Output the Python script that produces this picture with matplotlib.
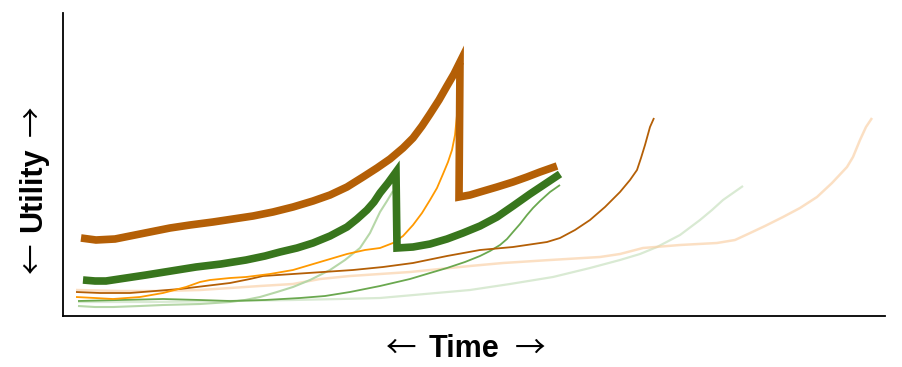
import matplotlib
matplotlib.use("Agg")
import matplotlib.pyplot as plt

plt.rcParams['font.family'] = ['Liberation Sans', 'DejaVu Sans']

# values (time, utility)
thin_orange_t = [13, 32, 50, 77, 100, 123, 137, 147, 167, 183, 207, 230, 257, 284, 302, 317, 330,
                 340, 350, 359, 367, 374, 380, 385, 389, 392, 393, 395]
thin_orange_u = [19, 18, 17, 19, 23, 29, 34, 36, 38, 39, 42, 46, 54, 62, 66, 68, 73,
                 80, 91, 103, 116, 128, 142, 154, 166, 181, 191, 211]

thin_brown_t = [13, 37, 67, 92, 117, 142, 167, 187, 200, 230, 260, 290, 320, 350, 384, 417, 450,
                484, 497, 512, 527, 542, 557, 567, 574, 578, 582, 587, 591]
thin_brown_u = [24, 23, 23, 25, 27, 30, 33, 37, 40, 42, 44, 46, 49, 53, 60, 66, 69,
                74, 78, 86, 96, 109, 124, 136, 146, 158, 171, 189, 198]

peach_t = [13, 57, 100, 137, 167, 197, 230, 257, 287, 317, 347, 377, 407, 440, 487, 537, 557,
           580, 617, 654, 672, 685, 702, 720, 737, 754, 769, 784, 790, 797, 803, 809]
peach_u = [26, 25, 25, 26, 28, 30, 32, 37, 40, 42, 44, 47, 50, 53, 56, 59, 62,
           68, 71, 73, 76, 82, 90, 99, 108, 119, 133, 149, 159, 176, 189, 198]

mid_green_t = [15, 57, 100, 137, 167, 202, 237, 262, 287, 317, 347, 367, 384, 402, 417, 427,
               437, 444, 450, 457, 464, 470, 477, 487, 497]
mid_green_u = [15, 16, 17, 16, 15, 16, 18, 20, 24, 30, 37, 43, 48, 54, 60, 65,
               71, 77, 84, 92, 101, 108, 115, 124, 131]

steep_green_t = [15, 32, 50, 77, 100, 137, 167, 182, 197, 214, 230, 247, 267, 282, 297, 307,
                 317, 324, 330]
steep_green_u = [10, 9, 9, 10, 11, 12, 14, 16, 19, 24, 29, 36, 46, 56, 68, 83,
                 104, 115, 125]

faint_green_t = [15, 87, 167, 230, 277, 317, 362, 407, 447, 490, 527, 557, 577, 594, 617, 637,
                 649, 660, 670, 680]
faint_green_u = [14, 14, 15, 16, 17, 18, 22, 26, 32, 39, 48, 56, 62, 69, 81, 96,
                 106, 116, 123, 130]

thick_brown_t = [18, 33, 52, 67, 87, 107, 127, 150, 170, 190, 210, 230, 250, 267, 284, 300, 314,
                 327, 340, 350, 359, 367, 376, 384, 391, 397,
                 396, 407, 417, 434, 450, 464, 477, 494]
thick_brown_u = [78, 76, 77, 80, 84, 88, 91, 94, 97, 100, 104, 109, 115, 121, 129, 139, 148,
                 157, 168, 178, 190, 202, 216, 230, 242, 254,
                 119, 121, 124, 129, 134, 139, 144, 150]

thick_green_t = [20, 32, 43, 63, 83, 108, 133, 158, 183, 202, 217, 234, 250, 267, 284, 294, 304,
                 311, 317, 325, 333,
                 334, 350, 367, 384, 400, 417, 434, 450, 467, 482, 497]
thick_green_u = [36, 35, 35, 38, 41, 45, 49, 52, 56, 60, 64, 68, 73, 80, 89, 97, 106,
                 114, 123, 133, 144,
                 68, 69, 72, 77, 83, 90, 99, 110, 122, 132, 142]

fig = plt.figure(figsize=(9.02, 3.67), dpi=100)
ax = fig.add_axes([63 / 902, 51 / 367, 822 / 902, 303 / 367])

thin = dict(solid_joinstyle='round', solid_capstyle='butt')
ax.plot(faint_green_t, faint_green_u, color='#d9ead3', lw=1.6, **thin)
ax.plot(peach_t, peach_u, color='#f9cb9c', alpha=0.6, lw=1.8, **thin)
ax.plot(steep_green_t, steep_green_u, color='#b6d7a8', lw=1.5, **thin)
ax.plot(mid_green_t, mid_green_u, color='#6aa84f', lw=1.3, **thin)
ax.plot(thin_brown_t, thin_brown_u, color='#b45f06', lw=1.3, **thin)
ax.plot(thin_orange_t, thin_orange_u, color='#ff9900', lw=1.3, **thin)

ax.plot(thick_brown_t, thick_brown_u, color='#b45f06', lw=5.5,
        solid_joinstyle='miter', solid_capstyle='butt')
ax.plot(thick_green_t, thick_green_u, color='#38761d', lw=5.5,
        solid_joinstyle='miter', solid_capstyle='butt')

ax.set_xlim(0, 822)
ax.set_ylim(0, 303)
ax.set_xticks([])
ax.set_yticks([])
for s in ['top', 'right']:
    ax.spines[s].set_visible(False)
for s in ['left', 'bottom']:
    ax.spines[s].set_color('black')
    ax.spines[s].set_linewidth(1.3)

# axis labels: bold words, thin arrows
W, H = 902, 367
arrow_font = ['Noto Sans CJK JP', 'DejaVu Sans']
fig.text(464 / W, 1 - 357 / H, 'Time', ha='center', va='baseline',
         fontsize=22, fontweight='bold')
fig.text(401 / W, 1 - 349 / H, '\u2190', ha='center', va='center',
         fontsize=22, family=arrow_font)
fig.text(530 / W, 1 - 349 / H, '\u2192', ha='center', va='center',
         fontsize=22, family=arrow_font)

fig.text(33 / W, 1 - 190 / H, 'Utility', ha='center', va='center',
         fontsize=22, fontweight='bold', rotation=90)
fig.text(33 / W, 1 - 121 / H, '\u2192', ha='center', va='center',
         fontsize=22, family=arrow_font, rotation=90)
fig.text(33 / W, 1 - 258 / H, '\u2190', ha='center', va='center',
         fontsize=22, family=arrow_font, rotation=90)

fig.savefig('out.png', dpi=100, facecolor='white')
